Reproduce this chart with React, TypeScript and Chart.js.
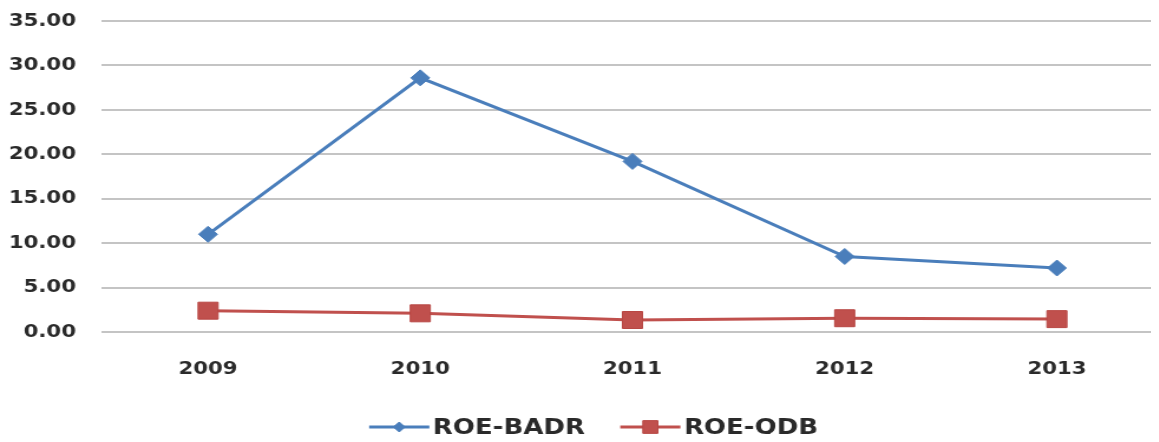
import { useEffect, useRef } from "react";
import { Chart, registerables } from "chart.js";
import { drawPoint } from "chart.js/helpers";

Chart.register(...registerables);

// Return on equity by year
const years = ["2009", "2010", "2011", "2012", "2013"];
const roeBadr = [11.0, 28.6, 19.2, 8.5, 7.2];
const roeQdb = [2.4, 2.1, 1.35, 1.55, 1.45];
const seriesNames = ["ROE-BADR", "ROE-QDB"];
const yMin = 0;
const yMax = 35;
const yStep = 5;

// The chart is drawn on a narrower canvas and widened with CSS,
// which gives the wide lettering and flattened markers.
const CANVAS_W = 1000;
const CANVAS_H = 442;
const STRETCH = 1.18;

const FONT = '"DejaVu Sans", Verdana, sans-serif';
const TEXT = "#2a2a2a";

// Legend drawn below the axis: a line sample with the series marker, then the name.
const lineLegend = {
  id: "lineLegend",
  afterDraw(chart: any) {
    const o = chart.options.plugins.lineLegend;
    const ctx = chart.ctx;
    ctx.save();
    ctx.font = `bold ${o.fontSize}px ${FONT}`;
    ctx.textBaseline = "middle";
    ctx.textAlign = "left";
    const items = chart.data.datasets.map((ds: any) => {
      const tw = ctx.measureText(ds.label).width;
      return { ds, tw, w: o.sampleWidth + o.textGap + tw };
    });
    const total =
      items.reduce((s: number, it: any) => s + it.w, 0) + o.itemGap * (items.length - 1);
    let x = (chart.width - total) / 2 + o.shift;
    const y = o.y;
    for (const it of items) {
      const ds = it.ds;
      ctx.strokeStyle = ds.borderColor;
      ctx.lineWidth = ds.borderWidth;
      ctx.beginPath();
      ctx.moveTo(x, y);
      ctx.lineTo(x + o.sampleWidth, y);
      ctx.stroke();
      ctx.fillStyle = ds.pointBackgroundColor;
      ctx.strokeStyle = ds.pointBorderColor;
      ctx.lineWidth = 1;
      drawPoint(
        ctx,
        {
          pointStyle: ds.pointStyle,
          rotation: 0,
          radius: ds.legendRadius,
          borderWidth: 1,
        } as any,
        x + o.sampleWidth / 2,
        y
      );
      ctx.fillStyle = TEXT;
      ctx.fillText(ds.label, x + o.sampleWidth + o.textGap, y + 1);
      x += it.w + o.itemGap;
    }
    ctx.restore();
  },
};

export default function App() {
  const canvasRef = useRef<HTMLCanvasElement | null>(null);

  useEffect(() => {
    const canvas = canvasRef.current;
    if (!canvas) return;
    const chart = new Chart(canvas, {
      type: "line",
      data: {
        labels: years,
        datasets: [
          {
            label: seriesNames[0],
            data: roeBadr,
            borderColor: "#4a7ebb",
            backgroundColor: "#4a7ebb",
            borderWidth: 3,
            pointStyle: "rectRot",
            pointRadius: 8,
            pointBackgroundColor: "#4a7ebb",
            pointBorderColor: "#4a7ebb",
            pointBorderWidth: 1,
            tension: 0,
            legendRadius: 5,
          } as any,
          {
            label: seriesNames[1],
            data: roeQdb,
            borderColor: "#c0504d",
            backgroundColor: "#c0504d",
            borderWidth: 3,
            pointStyle: "rect",
            pointRadius: 12,
            pointBackgroundColor: "#c0504d",
            pointBorderColor: "#b84744",
            pointBorderWidth: 1,
            tension: 0,
            legendRadius: 9,
          } as any,
        ],
      },
      options: {
        responsive: false,
        animation: false,
        devicePixelRatio: 1,
        layout: {
          padding: { top: 21, right: 14.4, bottom: 0, left: 0 },
        },
        plugins: {
          legend: { display: false },
          tooltip: { enabled: false },
          lineLegend: {
            y: 427,
            fontSize: 22,
            sampleWidth: 51,
            textGap: 3,
            itemGap: 30,
            shift: 3,
          },
        } as any,
        scales: {
          x: {
            type: "category",
            offset: true,
            grid: { display: false, drawTicks: false },
            border: { display: false },
            ticks: {
              color: TEXT,
              font: { family: FONT, size: 18, weight: "bold" },
              padding: 27,
              maxRotation: 0,
            },
            afterFit(scale: any) {
              scale.height = 110;
              scale.paddingLeft = 0;
              scale.paddingRight = 0;
            },
          },
          y: {
            min: yMin,
            max: yMax,
            grid: { color: "#c4c4c4", lineWidth: 2, drawTicks: false },
            border: { display: false },
            ticks: {
              stepSize: yStep,
              color: TEXT,
              font: { family: FONT, size: 18, weight: "bold" },
              padding: 22,
              callback: (v: any) => Number(v).toFixed(2),
            },
            afterFit(scale: any) {
              scale.width = 86.4;
              scale.paddingTop = 0;
              scale.paddingBottom = 0;
            },
          },
        },
      },
      plugins: [lineLegend as any],
    });
    return () => chart.destroy();
  }, []);

  return (
    <div
      style={{
        position: "relative",
        margin: -8,
        width: 1159,
        height: CANVAS_H,
        overflow: "hidden",
        background: "#ffffff",
      }}
    >
      <canvas
        ref={canvasRef}
        width={CANVAS_W}
        height={CANVAS_H}
        style={{ display: "block", width: CANVAS_W * STRETCH, height: CANVAS_H }}
      />
    </div>
  );
}
